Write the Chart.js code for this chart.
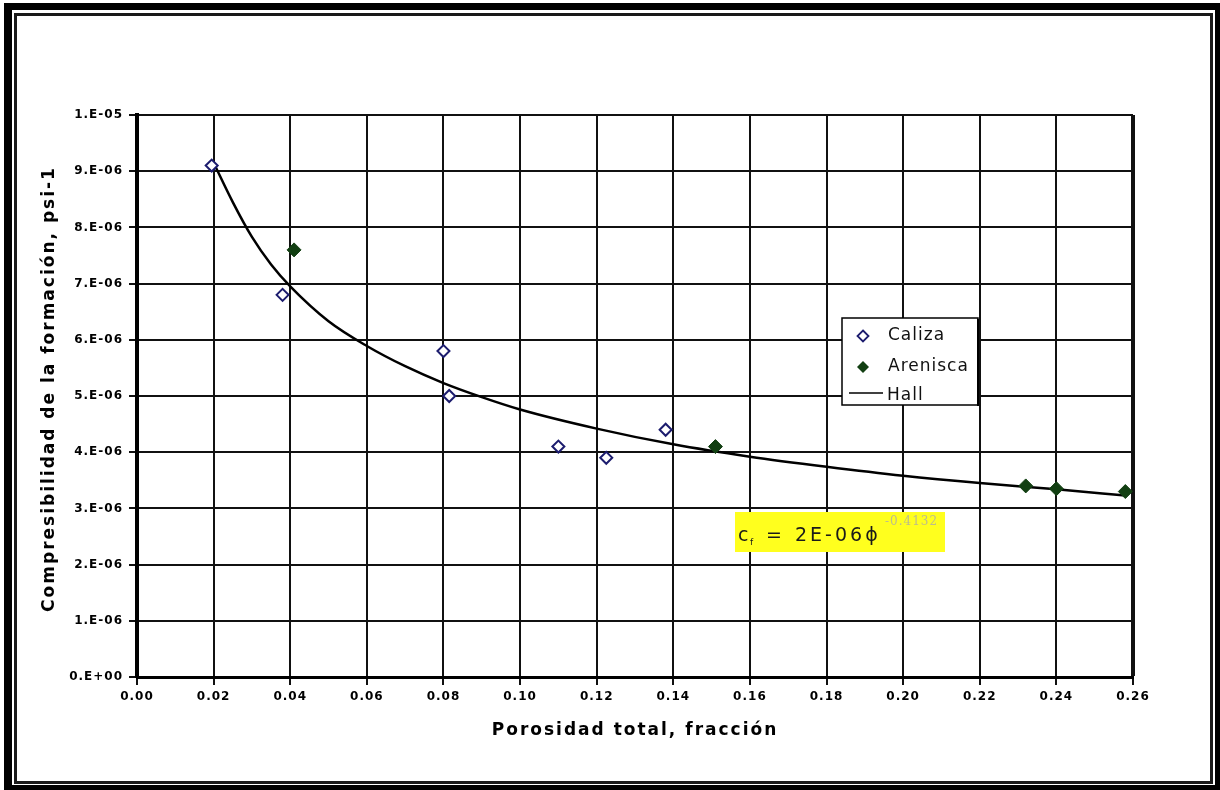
<!DOCTYPE html>
<html>
<head>
<meta charset="utf-8">
<script src="https://cdn.jsdelivr.net/npm/chart.js@4.4.1/dist/chart.umd.min.js"></script>
<style>
  html, body { margin: 0; padding: 0; background: #fff; }
  body { width: 1220px; height: 790px; position: relative; overflow: hidden; }
  .frame-outer { position: absolute; left: 4px; top: 3px; right: 0; bottom: 0;
    border-style: solid; border-color: #000; border-width: 7px 5px 5px 8px; }
  .frame-inner { position: absolute; left: 14px; top: 13px; width: 1199px; height: 771px;
    box-sizing: border-box; border: 3px solid #1a1a1a; }
  canvas { position: absolute; left: 0; top: 0; }
</style>
</head>
<body>
<div class="frame-outer"></div>
<div class="frame-inner"></div>
<canvas id="chart" width="1220" height="790"></canvas>
<script>
// Caliza (open diamonds)
const CALIZA_X = [0.0195, 0.038, 0.080, 0.0815, 0.110, 0.1225, 0.138];
const CALIZA_Y = [9.1e-6, 6.8e-6, 5.8e-6, 5.0e-6, 4.1e-6, 3.9e-6, 4.4e-6];

// Arenisca (filled)
const ARENISCA_X = [0.041, 0.151, 0.232, 0.240, 0.258];
const ARENISCA_Y = [7.6e-6, 4.1e-6, 3.4e-6, 3.35e-6, 3.3e-6];

// Hall trend line
const HALL_X = [0.02, 0.025, 0.03, 0.035, 0.04, 0.05, 0.06, 0.07, 0.08, 0.09, 0.10,
                0.12, 0.14, 0.16, 0.18, 0.20, 0.22, 0.24, 0.258];
const HALL_Y = [9.15e-6, 8.45e-6, 7.83e-6, 7.34e-6, 6.95e-6, 6.33e-6, 5.89e-6, 5.53e-6,
                5.23e-6, 4.98e-6, 4.76e-6, 4.42e-6, 4.14e-6, 3.92e-6, 3.74e-6, 3.58e-6,
                3.45e-6, 3.34e-6, 3.23e-6];

const X_LABELS = ['0.00', '0.02', '0.04', '0.06', '0.08', '0.10', '0.12', '0.14',
                  '0.16', '0.18', '0.20', '0.22', '0.24', '0.26'];
const Y_LABELS = ['0.E+00', '1.E-06', '2.E-06', '3.E-06', '4.E-06', '5.E-06',
                  '6.E-06', '7.E-06', '8.E-06', '9.E-06', '1.E-05'];

const X_TITLE = 'Porosidad total, fracción';
const Y_TITLE = 'Compresibilidad de la formación, psi-1';
const LEGEND_NAMES = ['Caliza', 'Arenisca', 'Hall'];
const EQ_MAIN = '2E-06\u03D5';
const EQ_EXP = '-0.4132';

const toPoints = (xs, ys) => xs.map((x, i) => ({ x: x, y: ys[i] }));

const NAVY = '#1c1c6e';
const GREEN = '#123f12';

function diamond(ctx, x, y, r) {
    ctx.beginPath();
    ctx.moveTo(x, y - r);
    ctx.lineTo(x + r, y);
    ctx.lineTo(x, y + r);
    ctx.lineTo(x - r, y);
    ctx.closePath();
}

// wide tick lettering, axis titles, legend box and trend-line equation
const overlayPlugin = {
    id: 'overlay',
    beforeDraw(chart) {
        chart.ctx.letterSpacing = '1px';
    },
    afterDraw(chart) {
        const ctx = chart.ctx;
        const area = chart.chartArea;
        ctx.save();

        // axis titles
        ctx.fillStyle = '#000';
        ctx.font = 'bold 17px "DejaVu Sans"';
        ctx.letterSpacing = '2px';
        ctx.textAlign = 'center';
        ctx.textBaseline = 'middle';
        ctx.fillText(X_TITLE, (area.left + area.right) / 2, 731);
        ctx.save();
        ctx.translate(50, 389);
        ctx.rotate(-Math.PI / 2);
        ctx.fillText(Y_TITLE, 0, 0);
        ctx.restore();

        // equation label
        ctx.textAlign = 'left';
        ctx.letterSpacing = '0px';
        ctx.fillStyle = '#ffff1e';
        ctx.fillRect(735, 512, 210, 40);
        ctx.fillStyle = '#1a1a1a';
        ctx.textBaseline = 'alphabetic';
        ctx.font = '19px "DejaVu Sans"';
        ctx.fillText('c', 738, 541);
        ctx.font = '9px "DejaVu Sans"';
        ctx.fillText('f', 750, 545);
        ctx.font = '19px "DejaVu Sans"';
        ctx.letterSpacing = '2px';
        ctx.fillText('= ', 766, 541);
        ctx.letterSpacing = '3px';
        ctx.fillText(EQ_MAIN, 795, 541);
        ctx.letterSpacing = '1px';
        ctx.font = '12px "DejaVu Serif"';
        ctx.fillStyle = '#bdbd8c';
        ctx.fillText(EQ_EXP, 885, 525);

        // legend
        ctx.fillStyle = '#fff';
        ctx.fillRect(842, 318, 136, 87);
        ctx.strokeStyle = '#000';
        ctx.lineWidth = 1.5;
        ctx.strokeRect(842, 318, 136, 87);
        ctx.fillStyle = '#000';
        ctx.fillRect(977, 319, 2, 87);

        const rows = [336, 367, 396];
        diamond(ctx, 863, rows[0], 5.5);
        ctx.fillStyle = '#fff';
        ctx.fill();
        ctx.strokeStyle = NAVY;
        ctx.lineWidth = 1.8;
        ctx.stroke();
        diamond(ctx, 863, rows[1], 6);
        ctx.fillStyle = GREEN;
        ctx.fill();
        ctx.beginPath();
        ctx.moveTo(849, 393);
        ctx.lineTo(883, 393);
        ctx.strokeStyle = '#000';
        ctx.lineWidth = 1.5;
        ctx.stroke();

        ctx.fillStyle = '#111';
        ctx.font = '17px "DejaVu Sans"';
        ctx.letterSpacing = '1px';
        ctx.textBaseline = 'middle';
        ctx.fillText(LEGEND_NAMES[0], 888, rows[0]);
        ctx.fillText(LEGEND_NAMES[1], 888, rows[1]);
        ctx.fillText(LEGEND_NAMES[2], 887, rows[2]);
        ctx.restore();
        ctx.letterSpacing = '0px';
    }
};

const tickFont = { family: '"DejaVu Sans"', size: 12, weight: 'bold' };

new Chart(document.getElementById('chart'), {
    type: 'scatter',
    data: {
        datasets: [
            {
                label: 'Hall',
                data: toPoints(HALL_X, HALL_Y),
                showLine: true,
                borderColor: '#000',
                borderWidth: 2.5,
                pointRadius: 0,
                cubicInterpolationMode: 'monotone',
                order: 3
            },
            {
                label: 'Caliza',
                data: toPoints(CALIZA_X, CALIZA_Y),
                pointStyle: 'rectRot',
                pointRadius: 6,
                backgroundColor: '#fff',
                borderColor: NAVY,
                borderWidth: 2,
                order: 2
            },
            {
                label: 'Arenisca',
                data: toPoints(ARENISCA_X, ARENISCA_Y),
                pointStyle: 'rectRot',
                pointRadius: 7,
                backgroundColor: GREEN,
                borderColor: GREEN,
                borderWidth: 1,
                order: 1
            }
        ]
    },
    options: {
        responsive: false,
        animation: false,
        devicePixelRatio: 1,
        layout: { padding: { left: 30, right: 87, top: 115, bottom: 38 } },
        plugins: {
            legend: { display: false },
            tooltip: { enabled: false }
        },
        scales: {
            x: {
                type: 'linear',
                min: 0,
                max: 0.26,
                afterFit: (scale) => { scale.height = 75; },
                ticks: {
                    stepSize: 0.02,
                    autoSkip: false,
                    maxRotation: 0,
                    padding: 5,
                    color: '#000',
                    font: tickFont,
                    callback: (v, i) => X_LABELS[i] ?? v.toFixed(2)
                },
                grid: {
                    color: '#111',
                    lineWidth: (c) => (c.index === X_LABELS.length - 1 ? 4 : 2),
                    tickLength: 8,
                    tickColor: '#111',
                    tickWidth: 2
                },
                border: { color: '#000', width: 3 }
            },
            y: {
                min: 0,
                max: 1e-5,
                afterFit: (scale) => { scale.width = 107; },
                ticks: {
                    stepSize: 1e-6,
                    padding: 6,
                    color: '#000',
                    font: tickFont,
                    callback: (v, i) => Y_LABELS[i] ?? String(v)
                },
                grid: {
                    color: '#111',
                    lineWidth: 2,
                    tickLength: 8,
                    tickColor: '#111',
                    tickWidth: 2
                },
                border: { color: '#000', width: 4 }
            }
        }
    },
    plugins: [overlayPlugin]
});
</script>
</body>
</html>
